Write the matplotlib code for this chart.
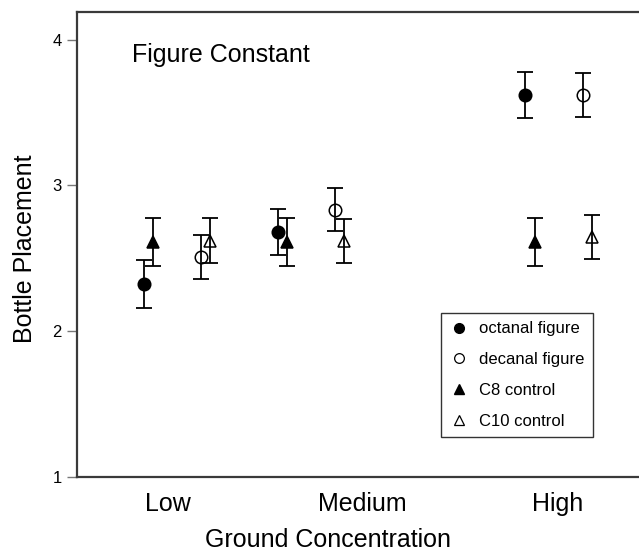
import matplotlib
matplotlib.use("Agg")
import matplotlib.pyplot as plt
from matplotlib.lines import Line2D

plt.rcParams['font.family'] = ['Liberation Sans', 'DejaVu Sans']

categories = ["Low", "Medium", "High"]
cat_pos = [1, 2, 3]

series_names = ["octanal figure", "decanal figure", "C8 control", "C10 control"]
x_octanal = [0.88, 1.567, 2.833]
x_decanal = [1.17, 1.859, 3.131]
x_c8 = [0.926, 1.613, 2.885]
x_c10 = [1.22, 1.905, 3.177]

y_octanal = [2.325, 2.68, 3.62]
y_decanal = [2.51, 2.835, 3.62]
y_c8 = [2.61, 2.61, 2.61]
y_c10 = [2.62, 2.62, 2.645]

e_octanal = [0.165, 0.16, 0.16]
e_decanal = [0.15, 0.15, 0.15]
e_c8 = [0.165, 0.165, 0.165]
e_c10 = [0.155, 0.15, 0.15]

fig = plt.figure(figsize=(6.39, 5.53), dpi=100)
ax = fig.add_axes([77/639, 1-477/553, 1-77/639, (477-12)/553])

spec = [
    (x_octanal, y_octanal, e_octanal, 'o', 'black', series_names[0]),
    (x_decanal, y_decanal, e_decanal, 'o', 'none', series_names[1]),
    (x_c8, y_c8, e_c8, '^', 'black', series_names[2]),
    (x_c10, y_c10, e_c10, '^', 'none', series_names[3]),
]
handles = []
for xs, ys, es, m, fc, name in spec:
    ax.errorbar(xs, ys, yerr=es, fmt='none', ecolor='black', elinewidth=1.3,
                capsize=5.5, capthick=1.3, zorder=2)
    ax.plot(xs, ys, linestyle='none', marker=m, markersize=9,
            markerfacecolor=fc, markeredgecolor='black', markeredgewidth=1.1, zorder=3)
    handles.append(Line2D([], [], linestyle='none', marker=m,
                          markersize=7 if m == 'o' else 7.5,
                          markerfacecolor=fc, markeredgecolor='black',
                          markeredgewidth=0.9 if fc == 'none' else 1.0, label=name))

ax.set_xlim(0.536, 3.418)
ax.set_ylim(1, 4.19)
ax.set_yticks([1, 2, 3, 4])
ax.set_xticks(cat_pos)
ax.set_xticklabels(categories, fontsize=18)
ax.tick_params(axis='x', length=0, pad=11)
ax.tick_params(axis='y', direction='out', length=7, width=1, color='#777777',
               labelsize=12, pad=4)

for s in ['left', 'bottom', 'top']:
    ax.spines[s].set_color('#3a3a3a')
    ax.spines[s].set_linewidth(1.6)
ax.spines['right'].set_visible(False)

ax.set_xlabel("Ground Concentration", fontsize=18)
ax.xaxis.set_label_coords(0.447, -0.109)
ax.set_ylabel("Bottle Placement", fontsize=18)
ax.yaxis.set_label_coords(-0.072, 0.49)

ax.text(0.098, 0.892, "Figure Constant", transform=ax.transAxes, fontsize=18,
        va='baseline', ha='left')

leg = fig.legend(handles=handles, loc='upper left',
                 bbox_to_anchor=(441/639, 1-313/553), borderaxespad=0,
                 fontsize=12, frameon=True, fancybox=False, shadow=False,
                 handlelength=1.2, handletextpad=0.6, labelspacing=0.95,
                 borderpad=0.5)
leg.get_frame().set_edgecolor('black')
leg.get_frame().set_linewidth(1.0)

fig.savefig("out.png", dpi=100)
